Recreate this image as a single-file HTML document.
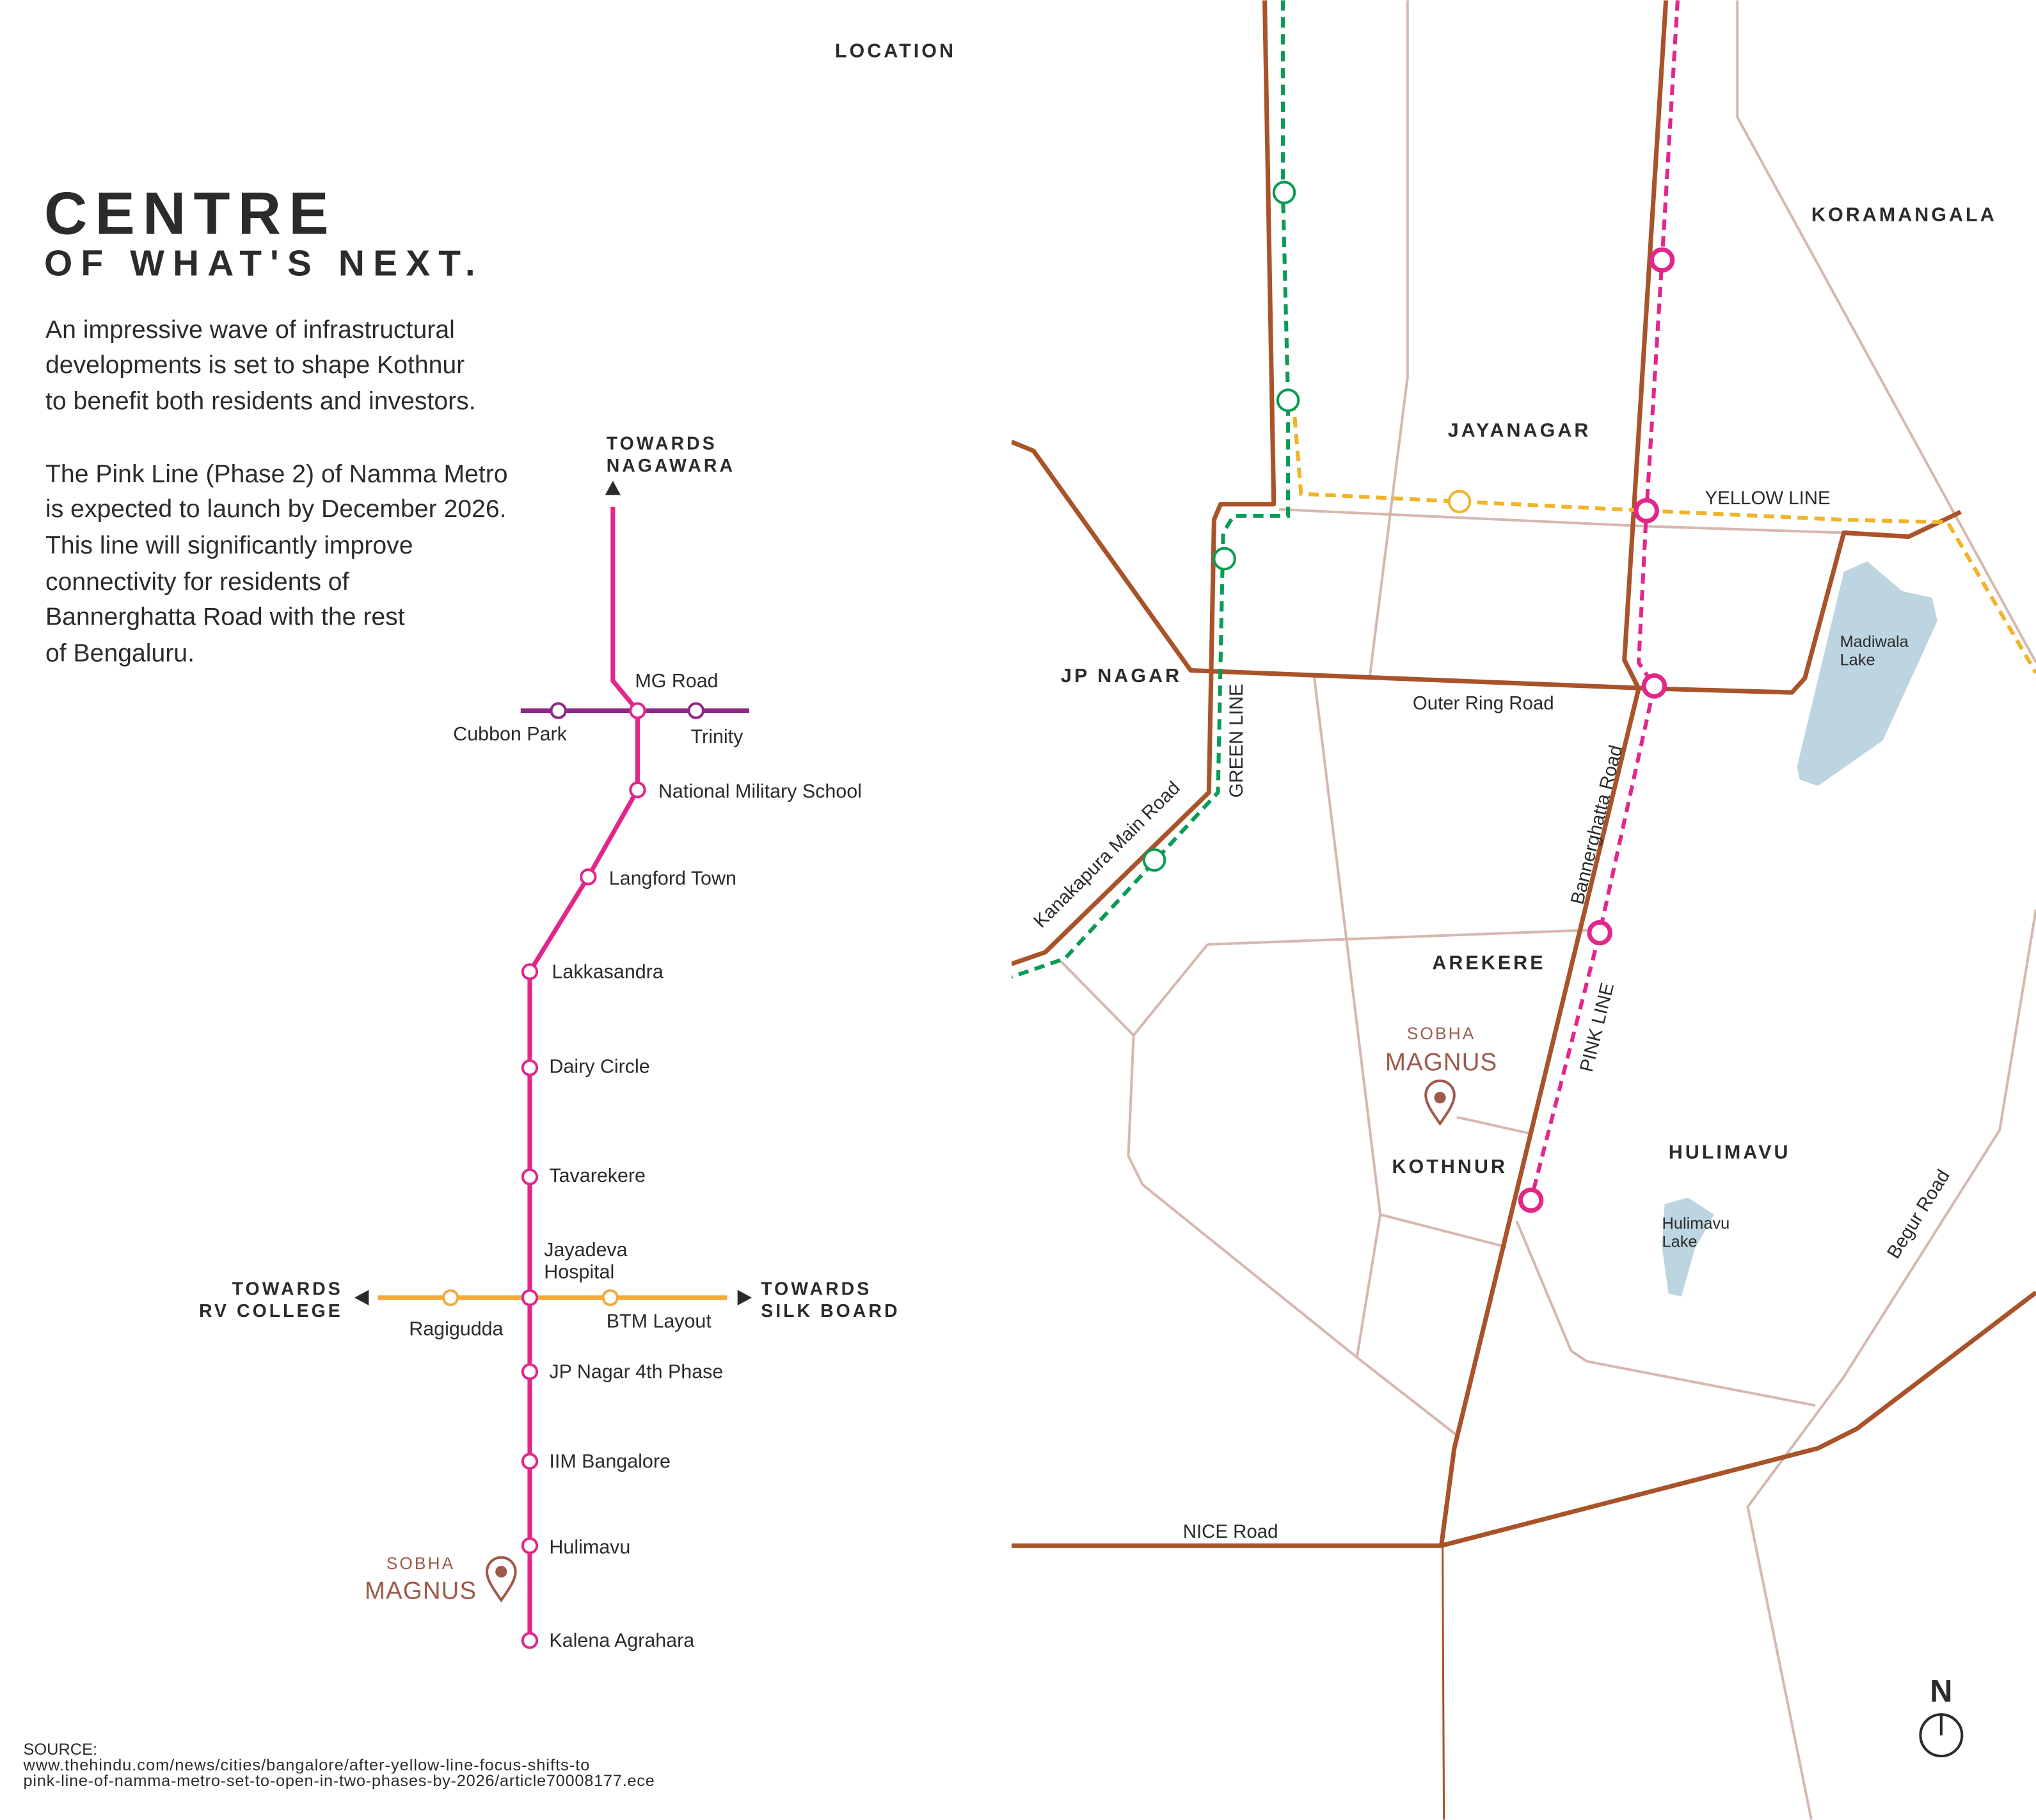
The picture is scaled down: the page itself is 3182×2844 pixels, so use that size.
<!DOCTYPE html>
<html><head><meta charset="utf-8"><style>
html,body{margin:0;padding:0;background:#fff}
svg{display:block}
text{font-family:"Liberation Sans","DejaVu Sans",sans-serif;fill:#2b2b2b}
.b{font-weight:bold;letter-spacing:2px}
</style></head><body>
<svg width="3182" height="2844" viewBox="0 0 1568 1401" xmlns="http://www.w3.org/2000/svg">
<rect width="1568" height="1401" fill="#fff"/>
<text x="643" y="44" class="b" font-size="15" letter-spacing="3.3">LOCATION</text>
<text x="34" y="180" font-size="46" font-weight="bold" letter-spacing="6">CENTRE</text>
<text x="34" y="212" font-size="28" font-weight="bold" letter-spacing="6.5">OF WHAT'S NEXT.</text>
<g font-size="19.3">
<text x="35" y="260">An impressive wave of infrastructural</text>
<text x="35" y="287">developments is set to shape Kothnur</text>
<text x="35" y="315">to benefit both residents and investors.</text>
<text x="35" y="371">The Pink Line (Phase 2) of Namma Metro</text>
<text x="35" y="398">is expected to launch by December 2026.</text>
<text x="35" y="426">This line will significantly improve</text>
<text x="35" y="454">connectivity for residents of</text>
<text x="35" y="481">Bannerghatta Road with the rest</text>
<text x="35" y="509">of Bengaluru.</text>
</g>
<g font-size="12.5">
<text x="18" y="1351">SOURCE:</text>
<text x="18" y="1363" textLength="436">www.thehindu.com/news/cities/bangalore/after-yellow-line-focus-shifts-to</text>
<text x="18" y="1375" textLength="486">pink-line-of-namma-metro-set-to-open-in-two-phases-by-2026/article70008177.ece</text>
</g>
<text x="467" y="346" class="b" font-size="14">TOWARDS</text>
<text x="467" y="363" class="b" font-size="14" letter-spacing="2.6">NAGAWARA</text>
<polygon points="472,370 466,381 478,381" fill="#2b2b2b"/>
<line x1="401" y1="547" x2="577" y2="547" stroke="#8a2a86" stroke-width="3.5"/>
<polyline points="472,390 472,524 491,547 491,608 453,675 408,748 408,1263" fill="none" stroke="#e3268a" stroke-width="3.5"/>
<line x1="291" y1="999" x2="560" y2="999" stroke="#f5a93a" stroke-width="3.5"/>
<polygon points="273,999 284,993 284,1005" fill="#2b2b2b"/>
<polygon points="579,999 568,993 568,1005" fill="#2b2b2b"/>
<g fill="#fff" stroke-width="2">
<circle cx="430" cy="547" r="5.5" stroke="#8a2a86"/>
<circle cx="536" cy="547" r="5.5" stroke="#8a2a86"/>
<circle cx="347" cy="999" r="5.5" stroke="#f5a93a"/>
<circle cx="470" cy="999" r="5.5" stroke="#f5a93a"/>
<g stroke="#e3268a">
<circle cx="491" cy="547" r="5.5"/><circle cx="491" cy="608" r="5.5"/><circle cx="453" cy="675" r="5.5"/>
<circle cx="408" cy="748" r="5.5"/><circle cx="408" cy="822" r="5.5"/><circle cx="408" cy="906" r="5.5"/>
<circle cx="408" cy="999" r="5.5"/><circle cx="408" cy="1056" r="5.5"/><circle cx="408" cy="1125" r="5.5"/>
<circle cx="408" cy="1190" r="5.5"/><circle cx="408" cy="1263" r="5.5"/>
</g></g>
<g font-size="15">
<text x="489" y="529">MG Road</text>
<text x="349" y="570">Cubbon Park</text>
<text x="532" y="572">Trinity</text>
<text x="507" y="614">National Military School</text>
<text x="469" y="681">Langford Town</text>
<text x="425" y="753">Lakkasandra</text>
<text x="423" y="826">Dairy Circle</text>
<text x="423" y="910">Tavarekere</text>
<text x="419" y="967">Jayadeva</text>
<text x="419" y="984">Hospital</text>
<text x="315" y="1028">Ragigudda</text>
<text x="467" y="1022">BTM Layout</text>
<text x="423" y="1061">JP Nagar 4th Phase</text>
<text x="423" y="1130">IIM Bangalore</text>
<text x="423" y="1196">Hulimavu</text>
<text x="423" y="1268">Kalena Agrahara</text>
</g>
<text x="264" y="997" class="b" font-size="14" text-anchor="end">TOWARDS</text>
<text x="264" y="1014" class="b" font-size="14" text-anchor="end">RV COLLEGE</text>
<text x="586" y="997" class="b" font-size="14">TOWARDS</text>
<text x="586" y="1014" class="b" font-size="14">SILK BOARD</text>
<text x="324" y="1208" font-size="13" style="fill:#9e5a4a" letter-spacing="1.5" text-anchor="middle">SOBHA</text>
<text x="324" y="1231" font-size="19" style="fill:#9e5a4a" letter-spacing="0.5" text-anchor="middle">MAGNUS</text>
<path d="M386,1232 C379,1222 375,1216 375,1210 A11,11 0 0 1 397,1210 C397,1216 393,1222 386,1232Z" fill="#fff" stroke="#9e5a4a" stroke-width="2"/>
<circle cx="386" cy="1210" r="4.5" fill="#9e5a4a"/>
<svg x="779" y="0" width="789" height="1401" viewBox="779 0 789 1401">
<polygon points="1420,440 1438,432 1465,455 1488,460 1492,478 1450,570 1400,605 1386,600 1384,590" fill="#bcd5e0"/>
<polygon points="1282,927 1300,922 1320,935 1305,962 1295,998 1285,996 1280,960" fill="#bcd5e0"/>
<g fill="none" stroke="#d6b8b1" stroke-width="2">
<polyline points="1338,0 1338,90 1568,510"/>
<polyline points="1084,0 1084,290 1055,520"/>
<polyline points="985,392 1268,405 1420,410"/>
<polyline points="1012,520 1063,935 1045,1045"/>
<polyline points="930,727 1222,716"/>
<polyline points="817,740 873,797"/>
<polyline points="930,727 873,797 869,890 880,912 1045,1045 1122,1105"/>
<polyline points="1063,935 1160,960"/>
<polyline points="1122,860 1180,873"/>
<polyline points="1168,940 1210,1040 1222,1048 1398,1082"/>
<polyline points="1568,700 1540,870 1420,1060 1346,1160 1395,1401"/>
</g>
<g fill="none" stroke="#a9532a" stroke-width="3.5" stroke-linejoin="round">
<polyline points="974,0 981,388 940,388 935,400 931,610 805,733 779,742"/>
<polyline points="779,340 796,347 917,516 1273,530 1380,533 1390,522 1420,410 1470,413 1510,394"/>
<polyline points="1283,0 1251,508 1262,530 1120,1115 1110,1190"/>
<polyline points="779,1190 1110,1190 1400,1115 1430,1100 1568,995"/>
</g>
<line x1="1111" y1="1190" x2="1112" y2="1401" stroke="#a9532a" stroke-width="1.5"/>
<polyline points="988,0 988,148 992,308 992,397 950,397 942,410 938,610 820,738 779,752" fill="none" stroke="#0a9c55" stroke-width="3" stroke-dasharray="8,5"/>
<polyline points="996,308 1002,380 1124,386 1268,393 1420,400 1500,402 1568,518" fill="none" stroke="#f0b429" stroke-width="3" stroke-dasharray="8,5"/>
<polyline points="1292,0 1280,200 1268,393 1262,510 1274,528 1232,718 1179,924" fill="none" stroke="#e3268a" stroke-width="3" stroke-dasharray="8,5"/>
<g fill="#fff" stroke-width="2">
<g stroke="#0a9c55"><circle cx="989" cy="148" r="8"/><circle cx="992" cy="308" r="8"/><circle cx="943" cy="430" r="8"/><circle cx="889" cy="662" r="8"/></g>
<circle cx="1124" cy="386" r="8" stroke="#f0b429"/>
<g stroke="#e3268a" stroke-width="3.5"><circle cx="1280" cy="200" r="8"/><circle cx="1268" cy="393" r="8"/><circle cx="1274" cy="528" r="8"/><circle cx="1232" cy="718" r="8"/><circle cx="1179" cy="924" r="8"/></g>
</g>
</svg>
<g class="b" font-size="15">
<text x="1395" y="170">KORAMANGALA</text>
<text x="1115" y="336">JAYANAGAR</text>
<text x="817" y="525">JP NAGAR</text>
<text x="1103" y="746">AREKERE</text>
<text x="1072" y="903">KOTHNUR</text>
<text x="1285" y="892">HULIMAVU</text>
</g>
<g font-size="14.5">
<text x="1313" y="388">YELLOW LINE</text>
<text x="1088" y="546">Outer Ring Road</text>
<text x="911" y="1184">NICE Road</text>
<text transform="translate(957,614) rotate(-90)">GREEN LINE</text>
<text transform="translate(802,715) rotate(-45)">Kanakapura Main Road</text>
<text transform="translate(1219,697) rotate(-76)">Bannerghatta Road</text>
<text transform="translate(1226,826) rotate(-76)">PINK LINE</text>
<text transform="translate(1461,970) rotate(-58)">Begur Road</text>
</g>
<g font-size="12.5">
<text x="1417" y="498">Madiwala</text><text x="1417" y="512">Lake</text>
<text x="1280" y="946">Hulimavu</text><text x="1280" y="960">Lake</text>
</g>
<text x="1110" y="800" font-size="13" style="fill:#9e5a4a" letter-spacing="1.5" text-anchor="middle">SOBHA</text>
<text x="1110" y="824" font-size="19" style="fill:#9e5a4a" letter-spacing="0.5" text-anchor="middle">MAGNUS</text>
<path d="M1109,865 C1102,855 1098,849 1098,843 A11,11 0 0 1 1120,843 C1120,849 1116,855 1109,865Z" fill="#fff" stroke="#9e5a4a" stroke-width="2"/>
<circle cx="1109" cy="845" r="4.5" fill="#9e5a4a"/>
<text x="1495" y="1310" font-size="24" font-weight="bold" text-anchor="middle">N</text>
<circle cx="1495" cy="1336" r="16" fill="none" stroke="#2b2b2b" stroke-width="2"/>
<line x1="1495" y1="1320" x2="1495" y2="1336" stroke="#2b2b2b" stroke-width="2"/>
</svg>
</body></html>
